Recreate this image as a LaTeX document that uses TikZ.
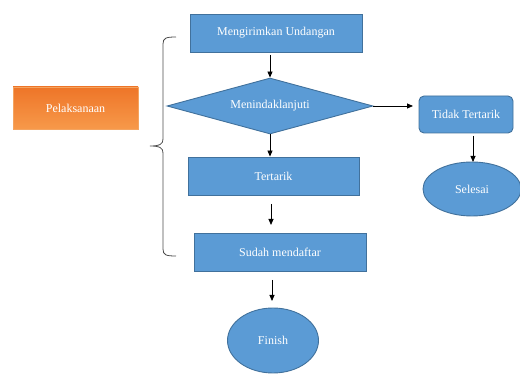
\documentclass[tikz,border=0pt]{standalone}
\usepackage{fontspec}
\setmainfont{Liberation Serif}
\usetikzlibrary{shapes.geometric,arrows.meta}
\definecolor{boxblue}{HTML}{5B9BD5}
\definecolor{boxedge}{HTML}{41719C}
\definecolor{orgtop}{HTML}{EE7528}
\definecolor{orgbot}{HTML}{F7994A}
\definecolor{orgedge}{HTML}{F4A460}
\tikzset{
  x=1pt,y=-1pt,
  bluebox/.style={draw=boxedge,line width=0.9pt,fill=boxblue,text=white,inner sep=0pt,font=\fontsize{12}{14}\selectfont},
  rect/.style={bluebox,rectangle},
  rrect/.style={bluebox,rectangle,rounded corners=5pt},
  dia/.style={bluebox,diamond,aspect=3.68},
  ell/.style={bluebox,ellipse},
  arr/.style={draw=black,line width=0.8pt,-{Triangle[length=6pt,width=5pt]}},
  brace/.style={draw=black!70,line width=0.8pt},
}
\begin{document}
\begin{tikzpicture}
\useasboundingbox (0,0) rectangle (520,374);
% nodes
\node[rect,minimum width=172pt,minimum height=38pt] (b1) at (276,33) {Mengirimkan Undangan};
\node[dia,minimum width=206pt,minimum height=56pt] (d) at (270,106) {Menindaklanjuti};
\node[rect,minimum width=171pt,minimum height=38pt] (t) at (273.5,176) {Tertarik};
\node[rect,minimum width=172pt,minimum height=38pt] (s) at (280,252) {Sudah mendaftar};
\node[ell,minimum width=91pt,minimum height=65pt] (f) at (273,340.5) {Finish};
\node[rrect,minimum width=94pt,minimum height=37pt] (nt) at (466,114.5) {Tidak Tertarik};
\node[ell,minimum width=98pt,minimum height=54pt] (sel) at (472,189) {Selesai};
\node[rectangle,draw=orgedge,line width=0.6pt,top color=orgtop,bottom color=orgbot,text=white,
      minimum width=125pt,minimum height=42pt,inner sep=0pt,font=\fontsize{12}{14}\selectfont] (p) at (75.5,108) {Pelaksanaan};
% connectors
\coordinate (a1s) at (270,55);
\draw[arr] (a1s) -- (d.north);
\draw[arr] (d.south) -- (d.south |- t.north);
\coordinate (a3s) at (271,204);
\coordinate (a3e) at (271,225);
\draw[arr] (a3s) -- (a3e);
\coordinate (a4s) at (272,280);
\coordinate (a4e) at (272,301);
\draw[arr] (a4s) -- (a4e);
\coordinate (a5e) at (413,106);
\draw[arr] (d.east) -- (a5e);
\coordinate (a6s) at (473,136);
\coordinate (a6e) at (473,162);
\draw[arr] (a6s) -- (a6e);
% brace
\draw[brace] (176,37) .. controls (166,37) and (163,38) .. (163,44)
  -- (163,139) .. controls (163,144) and (160,146) .. (150,146)
  .. controls (160,146) and (163,148) .. (163,153)
  -- (163,249) .. controls (163,255) and (166,256) .. (176,256);
\end{tikzpicture}
\end{document}
